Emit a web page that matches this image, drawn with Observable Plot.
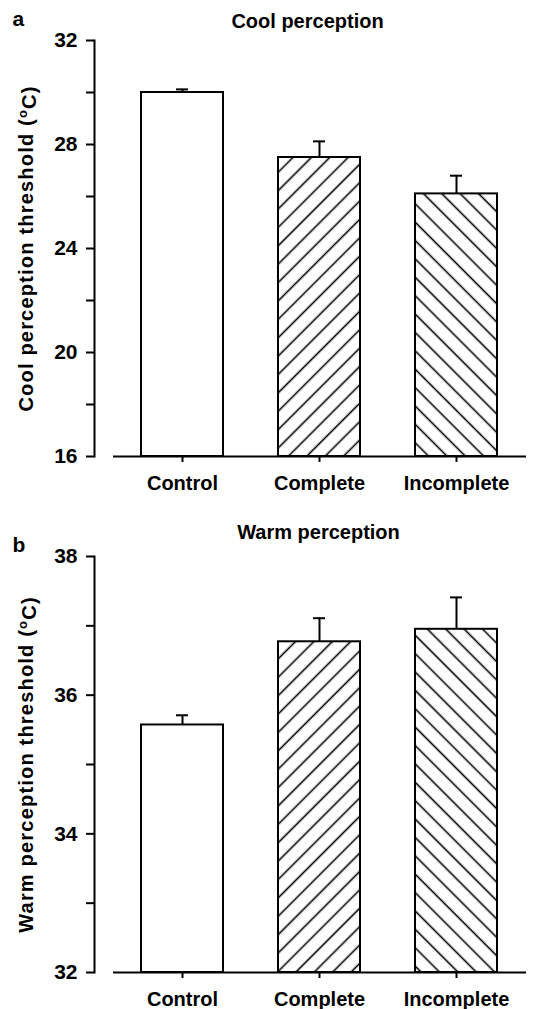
<!DOCTYPE html>
<html><head><meta charset="utf-8">
<script src="https://cdn.jsdelivr.net/npm/d3@7"></script>
<script src="https://cdn.jsdelivr.net/npm/@observablehq/plot@0.6"></script>
<style>body{margin:0;background:#fff} svg{display:block}</style>
</head><body><div id="chart"></div>
<script>
const categories = ["Control", "Complete", "Incomplete"];
const coolMean = [30.0, 27.5, 26.1];
const coolErr = [0.12, 0.62, 0.7];
const warmMean = [35.57, 36.77, 36.95];
const warmErr = [0.14, 0.34, 0.46];
const coolTicks = [16, 18, 20, 22, 24, 26, 28, 30, 32];
const coolLabels = [16, 20, 24, 28, 32];
const warmTicks = [32, 33, 34, 35, 36, 37, 38];
const warmLabels = [32, 34, 36, 38];

const FONT = "'Liberation Sans', Arial, Helvetica, sans-serif";

function panel(o) {
  const data = categories.map((c, i) => ({cat: c, mean: o.means[i], top: o.means[i] + o.errs[i], lo: o.domain[0]}));
  const fills = ["white", `url(#fwd-${o.id})`, `url(#back-${o.id})`];
  const svg = Plot.plot({
    width: 536, height: o.height,
    marginLeft: 94, marginRight: 10, marginTop: o.marginTop, marginBottom: o.marginBottom,
    style: {fontFamily: FONT, fontSize: "20px", fontWeight: "bold", color: "black", background: "white", overflow: "visible"},
    x: {type: "band", domain: categories, range: [113, 525.5], paddingInner: 0.4, paddingOuter: 0.2, axis: null, label: null},
    y: {domain: o.domain, axis: null, label: null},
    marks: [
      ...data.map((d, i) => Plot.barY([d], {x: "cat", y1: "lo", y2: "mean", fill: fills[i], stroke: "black", strokeWidth: 2})),
      Plot.ruleX(data, {x: "cat", y1: "mean", y2: "top", stroke: "black", strokeWidth: 2}),
      Plot.tickY(data, {x: "cat", y: "top", stroke: "black", strokeWidth: 2, insetLeft: 35, insetRight: 35}),
      Plot.frame({anchor: "left", stroke: "black", strokeWidth: 2}),
      Plot.ruleY([o.domain[0]], {insetLeft: 19, stroke: "black", strokeWidth: 2}),
      Plot.axisY({ticks: o.ticks, tickSize: 8, tickPadding: 9, strokeWidth: 2, label: null,
        tickFormat: d => o.labels.includes(d) ? String(d) : "", fontSize: 21, fontWeight: "bold"}),
      Plot.axisX({tickSize: 6, tickPadding: 13, strokeWidth: 2, label: null, fontSize: 20, fontWeight: "bold"}),
      Plot.text([o.ylabel], {frameAnchor: "left", rotate: -90, dx: -68, textAnchor: "middle", fontSize: 20, fontWeight: "bold"}),
      Plot.text([o.title], {frameAnchor: "top", lineAnchor: "bottom", dx: o.titleDx, dy: o.titleDy, fontSize: 20, fontWeight: "bold"}),
      Plot.text([o.letter], {frameAnchor: "top-left", textAnchor: "start", lineAnchor: "bottom", dx: -82, dy: o.letterDy, fontSize: 21, fontWeight: "bold"})
    ]
  });
  const s = d3.select(svg);
  const defs = s.insert("defs", ":first-child");
  [["fwd", 45], ["back", -45]].forEach(([name, ang]) => {
    const p = defs.append("pattern").attr("id", `${name}-${o.id}`).attr("patternUnits", "userSpaceOnUse")
      .attr("width", 13).attr("height", 13).attr("patternTransform", `rotate(${ang})`);
    p.append("rect").attr("width", 13).attr("height", 13).attr("fill", "white");
    p.append("line").attr("x1", 6.5).attr("x2", 6.5).attr("y1", -1).attr("y2", 14).attr("stroke", "black").attr("stroke-width", 1.6);
  });
  s.selectAll("text").each(function() {
    if (this.textContent.includes("threshold")) {
      const t = d3.select(this);
      const base = this.textContent.replace(" (oC)", "");
      t.text(null).attr("letter-spacing", "1.2px");
      t.append("tspan").text(base + " (");
      t.append("tspan").attr("dy", "-0.45em").attr("font-size", "13px").text("o");
      t.append("tspan").attr("dy", "0.45em").text("C)");
    }
  });
  return svg;
}

const root = document.getElementById("chart");
root.appendChild(panel({id: "a", letter: "a", title: "Cool perception", ylabel: "Cool perception threshold (oC)",
  means: coolMean, errs: coolErr, domain: [16, 32], ticks: coolTicks, labels: coolLabels,
  height: 505, marginTop: 40, marginBottom: 49, titleDy: -13, titleDx: -3, letterDy: -15}));
root.appendChild(panel({id: "b", letter: "b", title: "Warm perception", ylabel: "Warm perception threshold (oC)",
  means: warmMean, errs: warmErr, domain: [32, 38], ticks: warmTicks, labels: warmLabels,
  height: 504, marginTop: 51, marginBottom: 37, titleDy: -18, titleDx: 8, letterDy: -5}));
</script></body></html>
